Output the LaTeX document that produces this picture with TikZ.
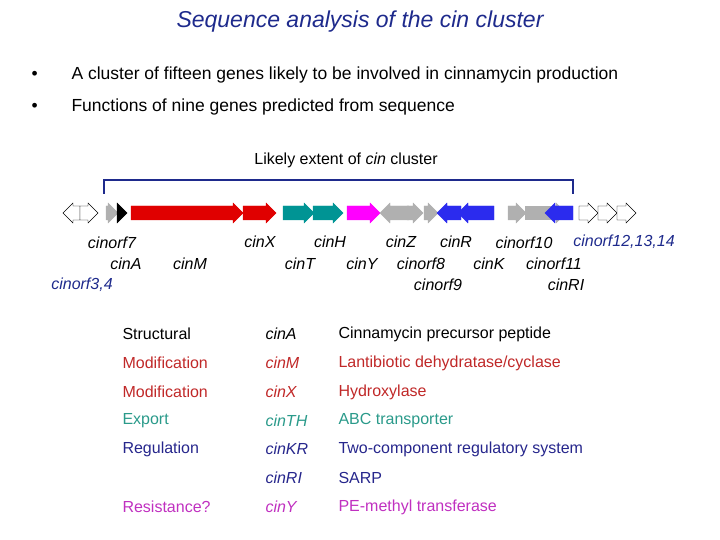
\documentclass[tikz,border=0pt]{standalone}
\usepackage{fontspec}
\setmainfont{Liberation Sans}
\definecolor{tblue}{HTML}{1E2A8C}
\definecolor{ared}{HTML}{E00000}
\definecolor{ateal}{HTML}{009494}
\definecolor{amag}{HTML}{FF00FF}
\definecolor{ablue}{HTML}{2B2BEE}
\definecolor{agray}{HTML}{B0B0B0}
\definecolor{xred}{HTML}{C02828}
\definecolor{xteal}{HTML}{2A9A8A}
\definecolor{xblue}{HTML}{26268C}
\definecolor{xmag}{HTML}{C030C0}
\newcommand{\gar}[4]{\path[fill=#3,draw=#4] (#1,206) -- ({#2-10},206) -- ({#2-10},203) -- (#2,213) -- ({#2-10},223) -- ({#2-10},220) -- (#1,220) -- cycle;}
\newcommand{\gal}[4]{\path[fill=#3,draw=#4] (#2,206) -- ({#1+10},206) -- ({#1+10},203) -- (#1,213) -- ({#1+10},223) -- ({#1+10},220) -- (#2,220) -- cycle;}
\begin{document}
\begin{tikzpicture}[x=1pt,y=-1pt,
  lab/.style={font=\itshape\fontsize{16}{18}\selectfont,anchor=center},
  row/.style={font=\fontsize{16}{18}\selectfont,anchor=west},
  txt/.style={font=\fontsize{17.5}{20}\selectfont,anchor=west}]
\useasboundingbox (0,0) rectangle (720,540);
\node[font=\itshape\fontsize{23}{26}\selectfont,text=tblue] (title) at (360,22) {Sequence analysis of the cin cluster};
\node[txt] (b1) at (28,75) {•};
\node[txt] (t1) at (68,75) {A cluster of fifteen genes likely to be involved in cinnamycin production};
\node[txt] (b2) at (28,107) {•};
\node[txt] (t2) at (68,107) {Functions of nine genes predicted from sequence};
\node[font=\fontsize{16}{18}\selectfont] (ext) at (346,160) {Likely extent of \textit{cin} cluster};
\coordinate (bl) at (104,194); \coordinate (br) at (573,194);
\draw[tblue,line width=1.5pt] (bl) -- (104,180) -- (573,180) -- (br);
\gal{63}{80}{white}{black}
\gar{80}{98}{white}{black}
\gar{106}{118}{agray}{agray}
\gar{117}{127}{black}{black}
\gar{131}{243}{ared}{ared}
\gar{243}{276}{ared}{ared}
\gar{283}{314}{ateal}{ateal}
\gar{313}{343}{ateal}{ateal}
\gar{347}{380}{amag}{amag}
\gal{380}{409}{agray}{agray}
\gar{407}{423}{agray}{agray}
\gar{424}{438}{agray}{agray}
\gal{437}{461}{ablue}{ablue}
\gal{458}{494}{ablue}{ablue}
\gar{508}{526}{agray}{agray}
\path[fill=agray] (525,206) rectangle (560,220);
\gar{556}{566}{agray}{agray}
\gal{545}{573}{ablue}{ablue}
\gar{579}{598}{white}{black}
\gar{598}{617}{white}{black}
\gar{617}{636}{white}{black}
\node[lab] (l1) at (112,243) {cinorf7};
\node[lab] (l2) at (126,264) {cinA};
\node[lab] (l3) at (190,264) {cinM};
\node[lab,text=tblue] (l4) at (82,285) {cinorf3,4};
\node[lab] (l5) at (260,242) {cinX};
\node[lab] (l6) at (330,242) {cinH};
\node[lab] (l7) at (300,264) {cinT};
\node[lab] (l8) at (362,264) {cinY};
\node[lab] (l9) at (401,242) {cinZ};
\node[lab] (l10) at (456,242) {cinR};
\node[lab] (l11) at (524,243) {cinorf10};
\node[lab,text=tblue] (l12) at (624,242) {cinorf12,13,14};
\node[lab] (l13) at (421,264) {cinorf8};
\node[lab] (l14) at (489,264) {cinK};
\node[lab] (l15) at (554,264) {cinorf11};
\node[lab] (l16) at (438,285) {cinorf9};
\node[lab] (l17) at (566,285) {cinRI};
\node[row] (a1) at (119,334) {Structural};
\node[row] (b1r) at (262,334) {\itshape cinA};
\node[row] (c1) at (335,334) {Cinnamycin precursor peptide};
\node[row,text=xred] (a2) at (119,363) {Modification};
\node[row,text=xred] (b2r) at (262,363) {\itshape cinM};
\node[row,text=xred] (c2) at (335,363) {Lantibiotic dehydratase/cyclase};
\node[row,text=xred] (a3) at (119,392) {Modification};
\node[row,text=xred] (b3) at (262,392) {\itshape cinX};
\node[row,text=xred] (c3) at (335,392) {Hydroxylase};
\node[row,text=xteal] (a4) at (119,421) {Export};
\node[row,text=xteal] (b4) at (262,421) {\itshape cinTH};
\node[row,text=xteal] (c4) at (335,421) {ABC transporter};
\node[row,text=xblue] (a5) at (119,449) {Regulation};
\node[row,text=xblue] (b5) at (262,449) {\itshape cinKR};
\node[row,text=xblue] (c5) at (335,449) {Two-component regulatory system};
\node[row,text=xblue] (b6) at (262,478) {\itshape cinRI};
\node[row,text=xblue] (c6) at (335,478) {SARP};
\node[row,text=xmag] (a7) at (119,507) {Resistance?};
\node[row,text=xmag] (b7) at (262,507) {\itshape cinY};
\node[row,text=xmag] (c7) at (335,507) {PE-methyl transferase};
\end{tikzpicture}
\end{document}
